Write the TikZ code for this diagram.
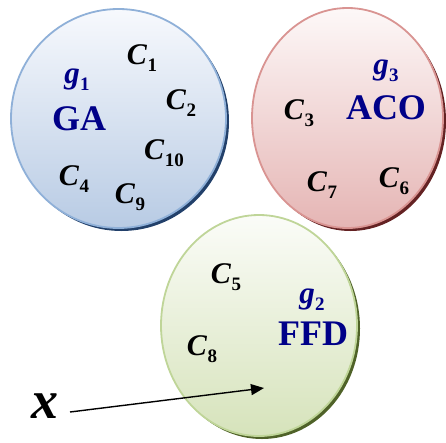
\documentclass[tikz,border=0pt]{standalone}
\usepackage{fontspec}
\setmainfont{Liberation Serif}
\usetikzlibrary{shapes.geometric,arrows.meta}
\definecolor{bluetop}{HTML}{F7F9FD}
\definecolor{bluebot}{HTML}{B8CBE4}
\definecolor{blueline}{HTML}{8FB0D8}
\definecolor{blueshadow}{HTML}{22406A}
\definecolor{redtop}{HTML}{FDF8F8}
\definecolor{redbot}{HTML}{E5B5B4}
\definecolor{redline}{HTML}{D99492}
\definecolor{redshadow}{HTML}{642223}
\definecolor{greentop}{HTML}{FBFCF8}
\definecolor{greenbot}{HTML}{D6E3BB}
\definecolor{greenline}{HTML}{BFD598}
\definecolor{greenshadow}{HTML}{4F6228}
\definecolor{navy}{HTML}{000088}
\newcommand\cl[2]{\textbf{\textit{#1}}\kern0.3pt\raisebox{-0.22em}{\fontsize{19}{19}\selectfont\textbf{#2}}}
\tikzset{
  grp/.style={ellipse, inner sep=0pt, line width=1.8pt},
  shad/.style={ellipse, inner sep=0pt, draw=none},
  lbl/.style={inner sep=0pt, font=\fontsize{30}{30}\selectfont},
  alg/.style={inner sep=0pt, text=navy, font=\fontsize{36}{36}\selectfont\bfseries},
  gname/.style={inner sep=0pt, text=navy, font=\fontsize{31}{31}\selectfont},
}
\begin{document}
\begin{tikzpicture}[x=1pt,y=-1pt]
\useasboundingbox (0,0) rectangle (446,442);
% shadows
\node[shad, fill=blueshadow, minimum width=215pt, minimum height=219pt] at (121.5,121.5) {};
\node[shad, fill=redshadow, minimum width=191pt, minimum height=220pt] at (350.5,121) {};
\node[shad, fill=greenshadow, minimum width=196pt, minimum height=221pt] at (262,328.5) {};
% groups
\node[grp, draw=blueline, top color=bluetop, bottom color=bluebot, minimum width=215pt, minimum height=219pt] (G1) at (118.5,118.5) {};
\node[grp, draw=redline, top color=redtop, bottom color=redbot, minimum width=191pt, minimum height=220pt] (G3) at (347.5,118) {};
\node[grp, draw=greenline, top color=greentop, bottom color=greenbot, minimum width=196pt, minimum height=221pt] (G2) at (259,325.5) {};
% blue labels
\node[gname] (g1) at (77,80) {\cl{g}{1}};
\node[alg] (ga) at (79,119) {GA};
\node[lbl] (c1) at (142,58) {\cl{C}{1}};
\node[lbl] (c2) at (181,103) {\cl{C}{2}};
\node[lbl] (c10) at (164,153) {\cl{C}{10}};
\node[lbl] (c4) at (74,179) {\cl{C}{4}};
\node[lbl] (c9) at (130,197) {\cl{C}{9}};
% red labels
\node[gname] (g3) at (386,71) {\cl{g}{3}};
\node[alg] (aco) at (386,108) {ACO};
\node[lbl] (c3) at (299,113) {\cl{C}{3}};
\node[lbl] (c7) at (322,185) {\cl{C}{7}};
\node[lbl] (c6) at (394,181) {\cl{C}{6}};
% green labels
\node[gname] (g2) at (312,300) {\cl{g}{2}};
\node[alg] (ffd) at (313,334) {FFD};
\node[lbl] (c5) at (226,277) {\cl{C}{5}};
\node[lbl] (c8) at (202,349) {\cl{C}{8}};
% x and arrow
\node[inner sep=0pt, font=\fontsize{54}{54}\selectfont\bfseries\itshape] (xin) at (45,406) {x};
\coordinate (xs) at (70,412);
\coordinate (tip) at (264,388);
\draw[line width=1.4pt, -{Triangle[length=13pt,width=11pt]}] (xs) -- (tip);
\end{tikzpicture}
\end{document}
